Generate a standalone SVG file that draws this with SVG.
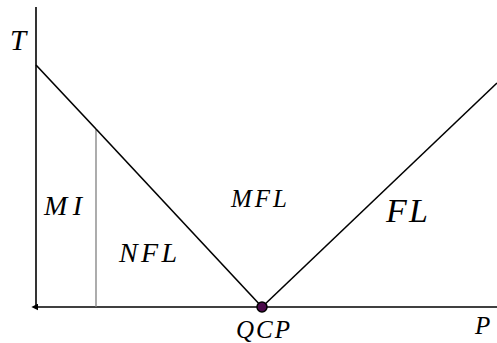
<svg xmlns="http://www.w3.org/2000/svg" width="497" height="343" viewBox="0 0 497 343">
<style>
text{font-family:"Liberation Serif","DejaVu Serif",serif;font-style:italic;fill:#000}
.ln{stroke:#000;stroke-width:1.6;fill:none}
</style>
<defs>
<marker id="ah" viewBox="0 0 10 10" refX="2" refY="5" markerWidth="7" markerHeight="7" orient="auto-start-reverse" markerUnits="userSpaceOnUse">
<path d="M0,0 L10,5 L0,10 Z" fill="#000"/>
</marker>
</defs>
<rect width="497" height="343" fill="#fff"/>
<g id="connectors">
<line class="ln" x1="36" y1="7" x2="36" y2="307"/>
<line class="ln" x1="497" y1="307" x2="37" y2="307" stroke-width="2.2" marker-end="url(#ah)"/>
<line x1="96" y1="129" x2="96" y2="307" stroke="#808080" stroke-width="1.3"/>
<line class="ln" x1="36" y1="65" x2="96" y2="129" stroke-width="2.4"/>
<line class="ln" x1="96" y1="129" x2="262" y2="307"/>
<line class="ln" x1="262" y1="307" x2="497" y2="83"/>
</g>
<g id="QCP"><circle cx="262" cy="307" r="5" fill="#4b0a4b" stroke="#000" stroke-width="1.5"/><text x="236" y="338" font-size="25" textLength="54" lengthAdjust="spacing">QCP</text></g>
<g id="T"><text x="10" y="50" font-size="29">T</text></g>
<g id="P"><text x="475" y="334" font-size="25">P</text></g>
<g id="MI"><text x="44" y="215" font-size="28" textLength="38" lengthAdjust="spacing">MI</text></g>
<g id="NFL"><text x="119" y="262" font-size="28" textLength="58" lengthAdjust="spacing">NFL</text></g>
<g id="MFL"><text x="231" y="207" font-size="25" textLength="56" lengthAdjust="spacing">MFL</text></g>
<g id="FL"><text x="386" y="222" font-size="34" textLength="42" lengthAdjust="spacing">FL</text></g>
</svg>
